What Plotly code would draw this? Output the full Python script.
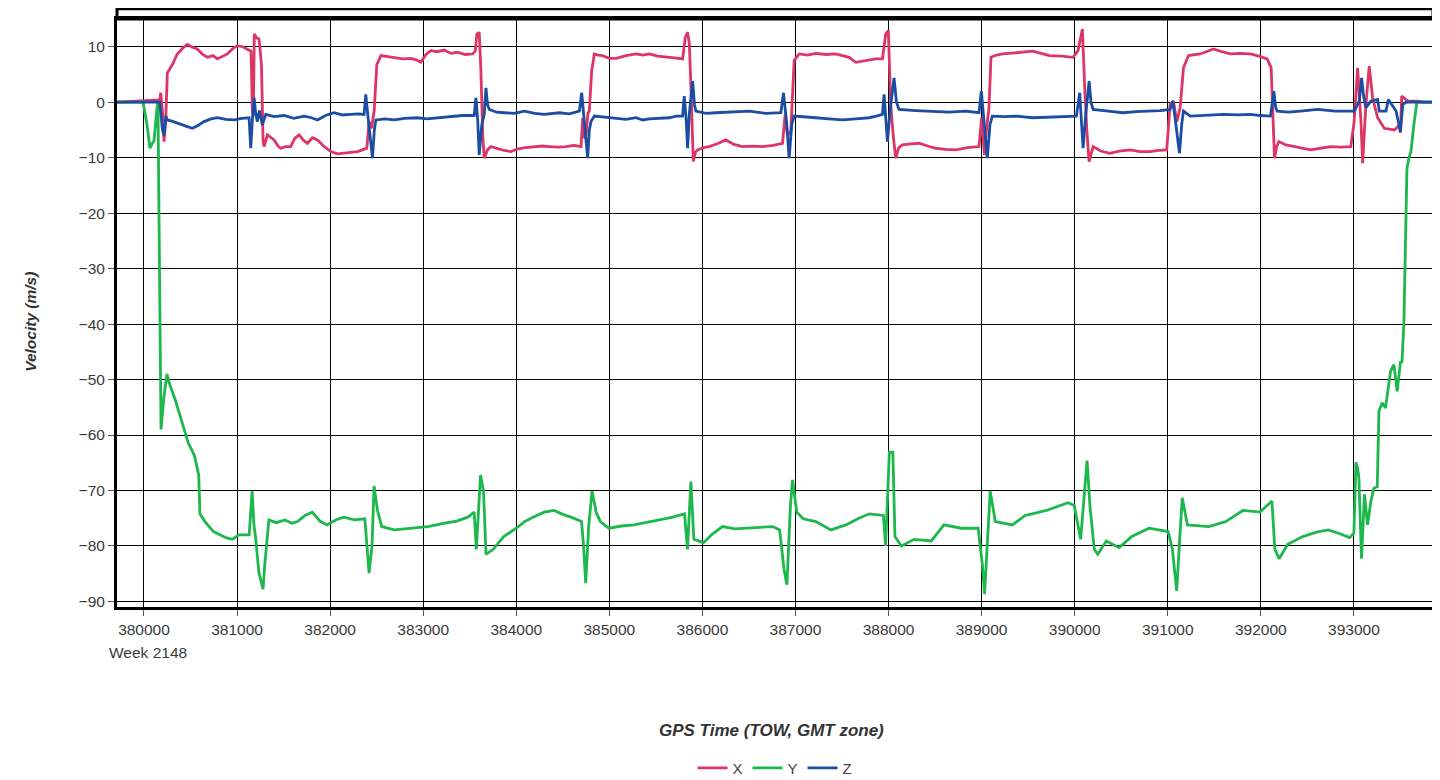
"""Plot GPS velocity components (X, Y, Z) over time of week."""

import plotly.graph_objects as go

# GPS time of week (s) and velocity (m/s)
x_time = [
    379710, 380000, 380100, 380170, 380180, 380200, 380215, 380233, 380251, 380305,
    380358, 380420, 380466, 380520, 380573, 380630, 380681, 380740, 380788, 380840,
    380896, 380950, 381004, 381060, 381111, 381150, 381165, 381175, 381185, 381210,
    381236, 381262, 381280, 381290, 381326, 381360, 381398, 381440, 381470, 381520,
    381577, 381620, 381667, 381710, 381756, 381810, 381864, 381930, 382007, 382080,
    382150, 382220, 382294, 382360, 382394, 382419, 382445, 382473, 382502, 382545,
    382620, 382688, 382780, 382867, 382930, 382975, 383030, 383082, 383150, 383226,
    383300, 383369, 383450, 383530, 383560, 383577, 383602, 383620, 383640, 383656,
    383690, 383728, 383800, 383870, 383943, 384020, 384100, 384193, 384280, 384356,
    384450, 384535, 384620, 384696, 384714, 384732, 384750, 384770, 384785, 384810,
    384839, 384880, 384928, 385000, 385072, 385180, 385286, 385360, 385429, 385520,
    385608, 385700, 385787, 385816, 385841, 385860, 385877, 385902, 385925, 385948,
    386010, 386073, 386160, 386252, 386340, 386431, 386540, 386646, 386760, 386861,
    386889, 386914, 386950, 386970, 386986, 387039, 387130, 387218, 387330, 387433,
    387510, 387576, 387648, 387720, 387791, 387860, 387934, 387970, 387998, 388023,
    388050, 388077, 388110, 388149, 388240, 388328, 388420, 388506, 388610, 388721,
    388850, 388972, 389000, 389030, 389050, 389079, 389101, 389160, 389227, 389390,
    389550, 389640, 389730, 389860, 389982, 390036, 390070, 390083, 390108, 390130,
    390155, 390198, 390280, 390378, 390480, 390594, 390700, 390809, 390900, 390989,
    391025, 391061, 391097, 391133, 391169, 391223, 391349, 391420, 391493, 391580,
    391673, 391780, 391889, 391980, 392068, 392111, 392130, 392147, 392170, 392194,
    392270, 392356, 392450, 392536, 392640, 392752, 392860, 392967, 393003, 393040,
    393076, 393094, 393129, 393165, 393201, 393255, 393327, 393380, 393435, 393489,
    393500, 393514, 393579, 393687, 393750, 393850,
]
x_vel = [
    0, 0.2, 0.3, 0.4, 1.7, -2, -7.1, -3.5, 5.3, 6.8,
    8.7, 9.8, 10.4, 9.9, 9.6, 8.6, 8.1, 8.4, 7.8, 8.3,
    8.7, 9.6, 10.2, 10.0, 9.6, 9.2, -1.6, -2.5, 12.3, 11.6,
    11.4, 6.8, -7.1, -8.0, -5.9, -6.3, -6.8, -7.9, -8.3, -8.0,
    -8.0, -6.5, -5.9, -6.8, -7.4, -6.4, -6.8, -7.9, -8.9, -9.3,
    -9.2, -9.0, -8.9, -8.5, -8.3, -3.5, -4.7, -1.6, 6.8, 8.4,
    8.2, 8.1, 7.8, 7.9, 7.6, 7.2, 8.6, 9.3, 9.1, 9.4,
    8.8, 9.0, 8.6, 8.7, 9.2, 12.3, 12.6, 5.6, -6, -10.1,
    -8.6, -8.0, -8.4, -8.7, -8.9, -8.4, -8.2, -8.0, -7.9, -8.0,
    -8.1, -8.0, -7.8, -8.0, -2.8, -6.5, -5.9, -2.0, -1.6, 5.6,
    8.7, 8.5, 8.4, 7.9, 7.9, 8.4, 8.7, 8.5, 8.7, 8.3,
    8.2, 8.0, 7.8, 11.7, 12.6, 10.5, 2.6, -10.7, -9.0, -8.6,
    -8.2, -8.0, -7.5, -6.8, -7.6, -8.0, -7.9, -8.0, -7.8, -7.4,
    -2.2, -5.9, -5.3, 2, 7.5, 8.7, 8.5, 8.8, 8.6, 8.7,
    8.4, 8.1, 7.2, 7.4, 7.6, 7.8, 7.8, 12.3, 12.9, -0.4,
    -6, -10.1, -8.2, -7.7, -7.5, -7.4, -7.9, -8.3, -8.5, -8.6,
    -8.2, -8.0, -2.8, -9.5, -5.3, -1.0, 8.1, 8.5, 8.7, 9.0,
    9.2, 8.8, 8.4, 8.3, 8.1, 9.3, 12.5, 13.2, 2.6, -5,
    -10.7, -8.0, -8.8, -9.2, -8.8, -8.6, -8.9, -8.9, -8.7, -8.6,
    -0.4, 0.2, -3.5, -1.0, 6.2, 8.4, 8.7, 9.2, 9.6, 9.1,
    8.7, 8.8, 8.7, 8.3, 7.8, 6.2, -3, -10.1, -8.0, -7.1,
    -7.7, -8.0, -8.4, -8.6, -8.3, -8.0, -8.1, -8.0, -3.5, 6.2,
    -3.5, -11.0, -0.4, 6.5, 0.8, -2.8, -4.7, -4.8, -5.0, -4.1,
    -5.5, 1.1, 0.2, 0.2, 0.0, 0.0,
]

y_time = [
    379710, 379990, 380032, 380064, 380086, 380107, 380140, 380150, 380161, 380172,
    380183, 380215, 380247, 380279, 380333, 380387, 380440, 380475, 380542, 380588,
    380601, 380655, 380746, 380881, 380949, 381017, 381130, 381150, 381162, 381180,
    381198, 381234, 381279, 381297, 381342, 381420, 381514, 381590, 381650, 381730,
    381808, 381890, 381966, 382060, 382147, 382260, 382373, 382396, 382418, 382450,
    382472, 382509, 382554, 382689, 382870, 383051, 383232, 383360, 383480, 383548,
    383571, 383616, 383648, 383675, 383752, 383865, 384000, 384090, 384181, 384300,
    384407, 384500, 384588, 384701, 384723, 384746, 384778, 384814, 384860, 384904,
    384995, 385130, 385266, 385400, 385537, 385680, 385808, 385840, 385876, 385908,
    386012, 386110, 386215, 386350, 386486, 386620, 386757, 386830, 386876, 386908,
    386945, 386968, 387014, 387083, 387220, 387381, 387541, 387680, 387794, 387945,
    387968, 388009, 388046, 388069, 388138, 388275, 388459, 388596, 388780, 388963,
    389009, 389032, 389064, 389092, 389147, 389330, 389468, 389697, 389927, 389995,
    390064, 390133, 390165, 390211, 390248, 390340, 390477, 390615, 390798, 391004,
    391050, 391096, 391128, 391156, 391211, 391440, 391624, 391807, 391991, 392119,
    392151, 392197, 392289, 392450, 392600, 392725, 392850, 392954, 393000, 393022,
    393040, 393054, 393082, 393114, 393146, 393183, 393215, 393251, 393269, 393304,
    393340, 393394, 393430, 393465, 393501, 393516, 393537, 393548, 393559, 393570,
    393591, 393612, 393645, 393677, 393850,
]
y_vel = [
    0, 0, -4, -8.3, -7.5, -7, -1, 0, -20, -45,
    -59, -53, -49, -51, -53.5, -56.5, -59.5, -61.4, -63.7, -67.2,
    -74.2, -75.6, -77.4, -78.5, -78.8, -78.0, -78.0, -74, -70.1, -76,
    -78.3, -84.7, -87.8, -83.5, -75.3, -75.8, -75.3, -75.9, -75.6, -74.5,
    -73.9, -75.5, -76.2, -75.3, -74.8, -75.3, -75.1, -80.0, -84.9, -80.0,
    -69.2, -73.6, -76.5, -77.1, -76.8, -76.5, -75.9, -75.5, -74.8, -73.9,
    -80.6, -67.2, -70.1, -81.5, -80.6, -78.3, -76.8, -75.6, -74.8, -73.9,
    -73.6, -74.3, -74.8, -75.6, -80.0, -86.7, -76.5, -70.1, -74, -75.6,
    -76.8, -76.4, -76.2, -75.8, -75.3, -74.8, -74.2, -80.6, -68.4, -78.8,
    -79.4, -77.8, -76.5, -76.9, -76.8, -76.6, -76.5, -77.1, -84.1, -87.0,
    -73.0, -68.1, -73.9, -75.1, -75.6, -77.1, -76.2, -75.0, -74.2, -74.5,
    -80.0, -63.1, -63.1, -78.3, -80.0, -78.8, -79.1, -76.2, -76.8, -76.8,
    -83.5, -88.7, -78.8, -70.1, -75.6, -76.2, -74.5, -73.6, -72.2, -72.7,
    -78.8, -64.6, -73.0, -80.6, -81.5, -79.1, -80.3, -78.3, -76.8, -77.4,
    -80.6, -88.1, -78.8, -71.3, -76.2, -76.5, -75.6, -73.6, -73.9, -71.9,
    -80.6, -82.3, -79.7, -78.3, -77.5, -77.1, -77.8, -78.5, -77.7, -64.9,
    -66, -67.8, -82.3, -70.7, -76.2, -71.9, -69.6, -69.3, -55.7, -54.2,
    -55.1, -48.5, -47.3, -52.1, -46.7, -47, -40, -30, -22, -12,
    -10, -9, -4, 0, 0,
]

z_time = [
    379710, 380170, 380197, 380215, 380235, 380251, 380300, 380358, 380410, 380466,
    380520, 380580, 380645, 380720, 380788, 380880, 380968, 381050, 381129, 381147,
    381165, 381183, 381200, 381218, 381240, 381272, 381308, 381400, 381505, 381610,
    381720, 381800, 381864, 381950, 382043, 382130, 382222, 382300, 382365, 382383,
    382408, 382430, 382455, 382475, 382491, 382590, 382688, 382800, 382939, 383040,
    383154, 383230, 383297, 383420, 383548, 383566, 383585, 383602, 383630, 383656,
    383674, 383692, 383710, 383790, 383871, 383980, 384086, 384200, 384301, 384400,
    384463, 384570, 384678, 384703, 384732, 384750, 384767, 384785, 384803, 384839,
    384950, 385072, 385180, 385286, 385360, 385429, 385540, 385644, 385720, 385787,
    385805, 385825, 385841, 385860, 385895, 385915, 385930, 386040, 386145, 386320,
    386503, 386680, 386843, 386871, 386904, 386932, 386960, 386986, 387100, 387218,
    387360, 387505, 387650, 387791, 387870, 387934, 387952, 387970, 387988, 388020,
    388059, 388085, 388113, 388290, 388471, 388650, 388828, 388972, 388997, 389025,
    389061, 389090, 389115, 389250, 389370, 389550, 389730, 389880, 390018, 390054,
    390072, 390090, 390120, 390155, 390175, 390198, 390360, 390522, 390660, 390809,
    390920, 391025, 391054, 391080, 391097, 391126, 391150, 391169, 391241, 391420,
    391601, 391750, 391889, 392000, 392104, 392140, 392160, 392176, 392300, 392428,
    392520, 392608, 392800, 393003, 393058, 393083, 393105, 393129, 393183, 393255,
    393273, 393345, 393370, 393410, 393453, 393500, 393525, 393561, 393850,
]
z_vel = [
    0, 0, -4.8, -6.0, -2.5, -3.2, -3.4, -3.8, -4.1, -4.4,
    -4.7, -4.2, -3.5, -3.0, -2.8, -3.1, -3.2, -2.9, -2.8, -8.3,
    -3, 0.8, -2, -3.5, -1.5, -4.1, -2.2, -2.6, -2.4, -2.9,
    -2.5, -2.8, -3.2, -2.4, -1.9, -2.3, -2.2, -2.1, -2.2, 1.4,
    -2.8, -6, -10.1, -5, -3.2, -3.0, -3.2, -2.9, -2.8, -3.0,
    -2.8, -2.6, -2.5, -2.4, -2.4, 0.8, -3, -9.5, -4, -2.2,
    2.6, -0.5, -1.3, -1.8, -1.9, -2.0, -1.6, -2.0, -2.2, -2.0,
    -1.9, -2.1, -1.6, 1.7, -3.5, -6, -10.1, -5, -3.5, -2.5,
    -2.7, -2.8, -3.1, -2.8, -3.2, -3.0, -2.9, -2.8, -2.5, -2.5,
    1.1, -3, -8.3, -2, 3.8, -0.5, -1.6, -2.0, -1.9, -1.8,
    -1.6, -2.0, -1.9, 1.7, -3.5, -10.1, -4, -2.5, -2.7, -2.8,
    -3.0, -3.2, -3.0, -2.8, -2.5, -2.2, 1.4, -3, -7.1, -1,
    4.4, 0, -1.3, -1.5, -1.6, -1.8, -1.6, -1.9, 2.0, -3.5,
    -10.1, -4, -2.5, -2.6, -2.5, -2.8, -2.7, -2.6, -2.5, 1.7,
    -3, -8.3, -2, 3.8, 0, -1.3, -1.6, -1.9, -1.7, -1.6,
    -1.5, -1.3, 0.2, -3, -5.3, -9.2, -4, -1.6, -2.5, -2.4,
    -2.2, -2.3, -2.2, -2.4, -2.5, 2.0, -1, -1.6, -1.8, -1.6,
    -1.5, -1.3, -1.6, -1.6, 0.2, 4.4, 1, -1.0, 0.2, 0.5,
    -1.6, -1.6, 0.5, -0.5, -1.6, -5.3, -0.4, 0, 0,
]

series = [
    ("X", x_time, x_vel, "#dc3566"),
    ("Y", y_time, y_vel, "#1db84c"),
    ("Z", z_time, z_vel, "#1a4da3"),
]

font_family = "Arial, Liberation Sans, sans-serif"

fig = go.Figure()
for name, t, v, color in series:
    fig.add_trace(
        go.Scatter(
            x=t,
            y=v,
            name=name,
            mode="lines",
            line=dict(color=color, width=2.8),
        )
    )

# the page body adds a small offset, so the figure is drawn a bit smaller
fig.update_layout(
    width=1432,
    height=772,
    margin=dict(l=109, r=7, t=11, b=173, autoexpand=False),
    paper_bgcolor="white",
    plot_bgcolor="white",
    font=dict(family=font_family, size=15.5, color="#3a3a3a"),
    showlegend=True,
    legend=dict(
        orientation="h",
        x=0.5,
        xanchor="center",
        yref="container",
        y=0.0155,
        yanchor="middle",
        font=dict(size=15, color="#444444"),
        itemwidth=30,
    ),
)
fig.update_xaxes(
    range=[379710, 393850],
    tick0=380000,
    dtick=1000,
    tickformat="d",
    showgrid=True,
    gridcolor="black",
    gridwidth=1,
    showline=True,
    linecolor="black",
    linewidth=3,
    mirror=True,
    ticks="outside",
    ticklen=6,
    tickcolor="#555555",
    zeroline=False,
    automargin=False,
)
fig.update_yaxes(
    range=[-91, 15],
    tick0=0,
    dtick=10,
    showgrid=True,
    gridcolor="black",
    gridwidth=1,
    showline=True,
    linecolor="black",
    linewidth=3,
    mirror=True,
    ticks="outside",
    ticklen=6,
    tickcolor="#555555",
    zeroline=True,
    zerolinecolor="black",
    zerolinewidth=1,
    automargin=False,
)

# outer frame strip above the plot area
fig.add_shape(
    type="rect",
    xref="paper",
    yref="paper",
    x0=0,
    x1=1,
    y0=1,
    y1=1.0175,
    line=dict(color="black", width=3),
)

fig.add_annotation(
    text="Week 2148",
    xref="x",
    yref="paper",
    x=380000,
    y=0,
    xshift=4,
    yshift=-45,
    yanchor="middle",
    showarrow=False,
    font=dict(size=15.5, color="#3a3a3a"),
)
fig.add_annotation(
    text="<b><i>GPS Time (TOW, GMT zone)</i></b>",
    xref="paper",
    yref="paper",
    x=0.4975,
    y=0,
    yshift=-123,
    yanchor="middle",
    showarrow=False,
    font=dict(size=17, color="#333333"),
)
fig.add_annotation(
    text="<b><i>Velocity (m/s)</i></b>",
    xref="paper",
    yref="paper",
    x=0,
    xshift=-86,
    xanchor="center",
    y=0.485,
    yanchor="middle",
    textangle=-90,
    showarrow=False,
    font=dict(size=15.5, color="#333333"),
)

fig.write_html("out.html")
